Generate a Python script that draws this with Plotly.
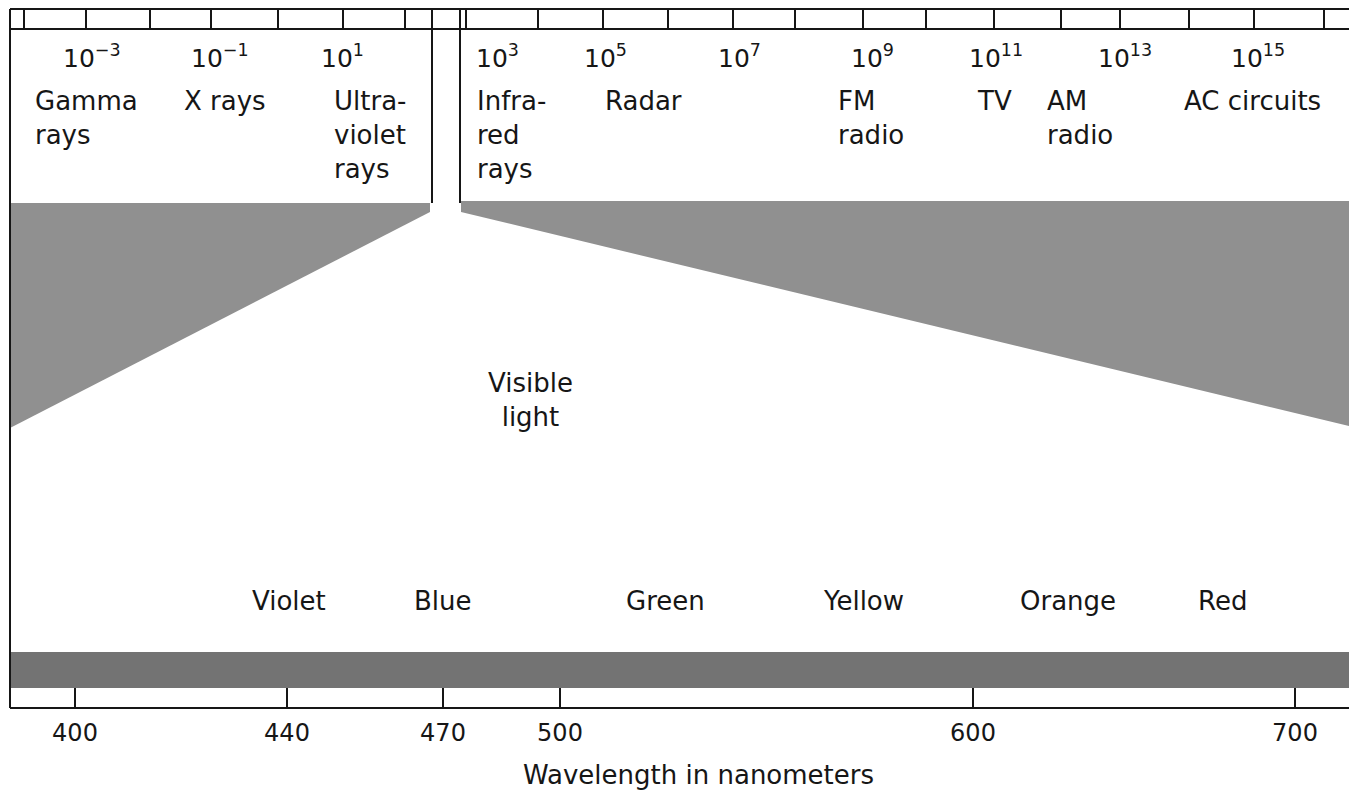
import plotly.graph_objects as go

# ---------------- data ----------------
wavelength_nm = [400, 440, 470, 500, 600, 700]
freq_exponents = [-3, -1, 1, 3, 5, 7, 9, 11, 13, 15]
band_names = ["Gamma<br>rays", "X rays", "Ultra-<br>violet<br>rays",
              "Infra-<br>red<br>rays", "Radar", "FM<br>radio", "TV",
              "AM<br>radio", "AC circuits"]
color_names = ["Violet", "Blue", "Green", "Yellow", "Orange", "Red"]
visible_label = "Visible<br>light"
axis_title = "Wavelength in nanometers"

# ---------------- geometry (window pixels) ----------------
W, H = 1357, 792
OFF = 8                      # page body margin
AXIS_Y = 708
wl_px = [75, 287, 443, 560, 973, 1295]
exp_px = [92, 220, 342, 497, 605, 739, 872, 996, 1125, 1258]
band_px = [33, 182, 332, 475, 603, 836, 975, 1045, 1182]
color_px = [289, 443, 665, 863, 1068, 1222]
top_tick_px = [24, 86, 150, 211, 278, 343, 405, 466, 538, 603, 668, 733,
               795, 863, 926, 994, 1061, 1120, 1189, 1254, 1324]

FONT = "DejaVu Sans"
INK = "#161616"
GRAY = "#909090"
DARK = "#737373"

fig = go.Figure()

# shaded funnel regions
left_poly_x = [10, 430, 430, 10, 10]
left_poly_y = [203, 203, 212, 428, 203]
right_poly_x = [461, 1357, 1357, 461, 461]
right_poly_y = [201, 201, 428, 212, 201]
for px_, py_ in [(left_poly_x, left_poly_y), (right_poly_x, right_poly_y)]:
    fig.add_trace(go.Scatter(x=px_, y=py_, mode="lines", fill="toself",
                             fillcolor=GRAY, line=dict(width=0),
                             hoverinfo="skip", showlegend=False))

shapes = []
line = dict(color=INK, width=2)
# top band
shapes.append(dict(type="line", x0=10, x1=W, y0=9, y1=9, line=line))
shapes.append(dict(type="line", x0=10, x1=W, y0=29, y1=29, line=line))
for tx in top_tick_px:
    shapes.append(dict(type="line", x0=tx, x1=tx, y0=9, y1=29, line=line))
# left border and panel separators
shapes.append(dict(type="line", x0=10, x1=10, y0=9, y1=AXIS_Y, line=line))
shapes.append(dict(type="line", x0=432, x1=432, y0=9, y1=203, line=line))
shapes.append(dict(type="line", x0=460, x1=460, y0=9, y1=203, line=line))
# bottom spectrum band
shapes.append(dict(type="rect", x0=10, x1=W, y0=652, y1=688,
                   fillcolor=DARK, line=dict(width=0), layer="below"))
# axis line
shapes.append(dict(type="line", x0=10, x1=W, y0=AXIS_Y, y1=AXIS_Y, line=line))

ann = []
fnt = dict(family=FONT, size=26, color=INK)
for e, x in zip(freq_exponents, exp_px):
    ann.append(dict(x=x, y=56, text=f"10<sup>{e}</sup>".replace("-", "\u2212"),
                    showarrow=False, xanchor="center", yanchor="middle",
                    font=dict(family=FONT, size=25, color=INK)))
for name, x in zip(band_names, band_px):
    ann.append(dict(x=x, y=84, text=name, showarrow=False, xanchor="left",
                    yanchor="top", align="left", font=fnt))
ann.append(dict(x=530, y=400, text=visible_label, showarrow=False,
                xanchor="center", yanchor="middle", align="center", font=fnt))
for name, x in zip(color_names, color_px):
    ann.append(dict(x=x, y=601, text=name, showarrow=False, xanchor="center",
                    yanchor="middle", font=fnt))
ann.append(dict(x=698, y=775, text=axis_title, showarrow=False,
                xanchor="center", yanchor="middle", font=fnt))

fig.update_layout(
    width=W - OFF, height=H - OFF, margin=dict(l=0, r=0, t=0, b=0),
    paper_bgcolor="white", plot_bgcolor="white",
    shapes=shapes, annotations=ann, showlegend=False,
    xaxis=dict(range=[OFF, W], anchor="free",
               position=(H - AXIS_Y) / (H - OFF),
               showgrid=False, zeroline=False, showline=False,
               tickmode="array", tickvals=wl_px,
               ticktext=[str(w) for w in wavelength_nm],
               ticks="inside", ticklen=20, tickwidth=2, tickcolor=INK,
               ticklabelstandoff=8,
               tickfont=dict(family=FONT, size=24, color=INK)),
    yaxis=dict(range=[H, OFF], visible=False, showgrid=False, zeroline=False),
)

fig.write_html("out.html")
